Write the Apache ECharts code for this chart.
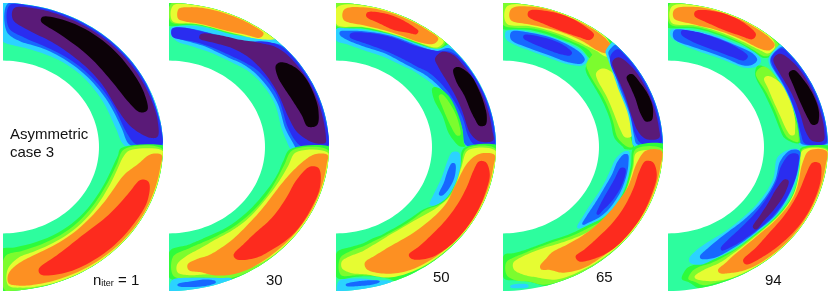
<!DOCTYPE html>
<html><head><meta charset="utf-8">
<style>html,body{margin:0;padding:0;background:#fff}#c{width:831px;height:294px}</style>
<script src="https://cdn.jsdelivr.net/npm/echarts@6/dist/echarts.min.js"></script>
</head><body><div id="c"></div>
<script>
// Contour levels of the field, from lowest to highest
const levelColors = {
  black:'#0c0208', purple:'#5a1a78', deep:'#2a2df0', blue:'#1768ff', cyan:'#2bd3ff',
  base:'#2dfd9e', green:'#2dfb3c', lime:'#7cfc2e', yellow:'#e6fc32', orange:'#fd9022', red:'#fd2b1e'
};
// how far the estimated edges of each level were under-read
const levelGrow = {black:.012, purple:.008, deep:.004, blue:.002, cyan:.002, green:0, lime:0, yellow:.004, orange:.008, red:.011};
const innerRadius = 0.6;
const panelLabels = ['1','30','50','65','94'];
// each contour: [level, [[angle deg, r inner, r outer], ...]]
const panel1 = [
 ['cyan',[[0.5,.77,1.05],[10,.72,1.05],[30,.70,1.05],[50,.70,1.05],[74,.70,1.05],[88,.72,1.05],[90,.74,1.05]]],
 ['blue',[[1,.80,1.05],[10,.755,.998],[30,.725,.998],[50,.72,.998],[70,.73,.998],[82,.745,.998],[88,.80,.995]]],
 ['deep',[[1.5,.84,.99],[8,.78,.99],[30,.745,.99],[50,.74,.99],[70,.75,.99],[80,.775,.99],[87,.83,.985]]],
 ['purple',[[5,.92,.96],[10,.82,.975],[20,.77,.975],[37,.765,.975],[55,.775,.975],[68,.80,.975],[78,.83,.975],[85,.89,.96]]],
 ['black',[[17,.90,.925],[22,.855,.945],[35,.83,.95],[50,.84,.955],[65,.87,.95],[73.5,.915,.925]]],
 ['green',[[-0.5,.74,1.05],[-5,.72,1.05],[-11,.70,1.05],[-26,.68,1.05],[-54,.685,1.05],[-83,.70,1.05],[-92,.72,1.05]]],
 ['lime',[[-1,.76,1.0],[-10,.72,1.0],[-26,.695,1.0],[-54,.705,1.0],[-80,.73,1.0],[-89,.76,1.0]]],
 ['yellow',[[-2,.80,.995],[-5,.76,.995],[-23,.72,.995],[-53,.73,.995],[-75,.755,.99],[-83,.78,.98],[-87.5,.85,.96]]],
 ['orange',[[-4,.93,.985],[-8,.86,.985],[-15,.785,.985],[-33,.745,.985],[-55,.75,.98],[-76,.785,.97],[-84,.83,.96],[-87,.89,.94]]],
 ['red',[[-16,.90,.93],[-22,.86,.965],[-34,.825,.965],[-51,.80,.96],[-66,.835,.945],[-74,.885,.905]]]
];
const panel2 = [
 ['green',[[92,.85,1.05],[78,.865,1.05],[64,.875,1.05],[55,.93,1.05],[47,.99,1.05]]],
 ['lime',[[89,.865,1.0],[78,.87,1.0],[64,.88,1.0],[54,.94,1.0],[48,.985,1.0]]],
 ['yellow',[[88,.875,.98],[80,.875,.995],[65,.885,.995],[52,.94,.995],[48.5,.97,.99]]],
 ['orange',[[85.5,.90,.955],[83,.885,.97],[78,.885,.98],[67,.89,.985],[58,.925,.985],[54,.955,.978]]],
 ['cyan',[[-2.5,.78,1.05],[-1,.76,1.05],[10,.718,1.05],[25,.728,1.05],[45,.727,1.05],[50,.72,.97],[55,.71,.92],[64,.706,.87],[78,.715,.855],[86,.737,.84],[89,.78,.825]]],
 ['blue',[[-1.5,.80,1.0],[0,.79,1.0],[10,.74,1.0],[25,.745,1.0],[45,.745,.995],[51,.74,.93],[60,.725,.85],[72,.735,.83],[86,.76,.83],[88.5,.80,.82]]],
 ['deep',[[0.8,.83,.99],[10,.76,.99],[30,.77,.99],[45,.77,.985],[50,.76,.95],[60,.745,.84],[75,.75,.825],[88,.77,.82]]],
 ['purple',[[2.5,.92,.97],[4,.86,.975],[8,.81,.975],[17,.78,.975],[30,.785,.975],[45,.80,.96],[52,.805,.91],[60,.80,.855],[68,.785,.83],[75,.785,.80]]],
 ['black',[[10.5,.89,.925],[15,.87,.955],[22,.85,.965],[31,.84,.965],[36,.85,.945],[39,.885,.90]]],
 ['green',[[-1,.76,1.05],[-8,.72,1.05],[-15,.705,1.05],[-30,.675,1.05],[-44,.665,1.05],[-60,.665,1.05],[-67,.665,1.0],[-74,.675,.95],[-80,.69,.92],[-89.5,.72,.915]]],
 ['lime',[[-1.5,.775,1.0],[-10,.73,1.0],[-30,.695,1.0],[-60,.685,1.0],[-68,.69,.985],[-75,.70,.94],[-80,.715,.92],[-88,.76,.90]]],
 ['yellow',[[-3,.80,.995],[-10,.76,.995],[-30,.71,.995],[-50,.705,.99],[-57,.705,.98],[-66,.71,.95],[-76,.74,.908],[-82,.77,.895],[-86,.82,.87]]],
 ['orange',[[-4,.92,.985],[-7,.85,.985],[-15,.78,.985],[-26,.74,.985],[-45,.735,.98],[-63,.775,.97],[-72,.80,.93],[-77,.805,.885],[-81,.83,.855]]],
 ['red',[[-10,.90,.935],[-16,.84,.972],[-25,.825,.975],[-38,.82,.973],[-48,.815,.95],[-55,.83,.93],[-60.5,.86,.875]]],
 ['cyan',[[-88.5,.925,1.05],[-78,.93,1.05],[-70,.97,1.05],[-67,.995,1.05]]],
 ['blue',[[-86.5,.955,.965],[-82,.945,.98],[-76,.95,.99],[-73,.975,.985]]]
];
const panel3 = [
 ['green',[[92,.83,1.05],[78,.84,1.05],[65,.85,1.05],[55,.875,1.05],[48,.92,1.05],[44,1.0,1.05]]],
 ['lime',[[89.8,.84,1.0],[78,.848,1.0],[65,.858,1.0],[55,.885,1.0],[47,.93,1.0]]],
 ['yellow',[[89,.85,.97],[78,.855,.995],[64,.868,.995],[52,.905,.995],[48,.94,.995]]],
 ['orange',[[86,.89,.95],[78,.87,.98],[64,.88,.985],[55,.90,.985],[50.5,.945,.98]]],
 ['red',[[77,.935,.945],[72,.91,.965],[66,.90,.965],[60,.925,.955],[58.5,.94,.945]]],
 ['cyan',[[1.5,.80,1.05],[10,.78,1.05],[25,.76,1.05],[36,.745,1.05],[44,.725,1.05],[47,.72,.93],[55,.70,.875],[65,.695,.855],[75,.695,.835],[85,.72,.825],[89.5,.74,.82]]],
 ['blue',[[1,.815,1.0],[10,.80,1.0],[25,.785,.995],[36,.765,.995],[44,.745,.985],[47,.735,.91],[55,.72,.865],[65,.72,.845],[75,.72,.825],[84,.745,.81],[88,.78,.80]]],
 ['deep',[[1.5,.87,.985],[5,.835,.99],[15,.82,.99],[30,.80,.99],[42,.78,.975],[47,.76,.91],[55,.745,.855],[65,.74,.835],[75,.745,.815],[83,.77,.79]]],
 ['purple',[[3.5,.90,.975],[7,.85,.975],[19,.835,.975],[35,.84,.97],[41,.855,.965],[44,.88,.93]]],
 ['black',[[10.5,.92,.935],[13,.90,.955],[17,.89,.96],[24,.89,.965],[31,.89,.965],[35,.92,.93]]],
 ['green',[[-0.5,.80,1.05],[-10,.785,1.05],[-25,.775,1.05],[-31,.755,1.05],[-38,.70,1.05],[-46,.68,1.05],[-60,.67,1.05],[-66,.675,1.05],[-70,.675,.975],[-76,.69,.925],[-82,.70,.91],[-89.5,.73,.91]]],
 ['green',[[34,.725,.745],[28,.695,.785],[18,.70,.795],[8,.71,.80],[2,.75,.80],[0.3,.775,.81]]],
 ['lime',[[29,.735,.755],[22,.72,.775],[12,.73,.785],[6,.76,.78]]],
 ['lime',[[-0.8,.815,1.0],[-10,.79,1.0],[-25,.785,1.0],[-31,.765,1.0],[-38,.71,1.0],[-46,.695,1.0],[-60,.685,.99],[-70,.695,.96],[-76,.71,.92],[-82,.725,.90],[-88,.77,.89]]],
 ['yellow',[[-2,.83,.995],[-10,.80,.995],[-25,.795,.995],[-33,.765,.995],[-45,.715,.99],[-60,.70,.985],[-70,.72,.96],[-78,.75,.90],[-84,.77,.875],[-87,.80,.84]]],
 ['orange',[[-4,.90,.985],[-8,.835,.985],[-19,.80,.985],[-30,.80,.985],[-45,.78,.98],[-63,.775,.96],[-72,.80,.915],[-76.5,.83,.86]]],
 ['red',[[-7.5,.91,.93],[-11,.885,.968],[-18,.875,.975],[-34,.865,.98],[-46,.865,.975],[-53,.875,.955],[-57.5,.885,.90]]],
 ['cyan',[[-3,.73,.765],[-8,.705,.785],[-19,.695,.785],[-28,.695,.77],[-34,.71,.725]]],
 ['blue',[[-9,.735,.75],[-13,.72,.765],[-20,.72,.765],[-27,.725,.74]]],
 ['cyan',[[-88.5,.93,1.05],[-80,.93,1.05],[-75,.96,1.05],[-70,.995,1.05]]],
 ['blue',[[-86,.955,.965],[-81,.945,.975],[-76,.955,.98],[-74,.97,.975]]]
];
const panel4 = [
 ['green',[[92,.83,1.05],[78,.83,1.05],[65,.83,1.05],[55,.84,1.05],[48,.82,1.05],[44,.85,1.05],[42,.93,1.05]]],
 ['green',[[47,.76,.96],[45,.735,.93],[40,.715,.87],[30,.70,.825],[15,.695,.81],[5,.70,.81],[0,.75,.82],[-1,.76,.82]]],
 ['lime',[[89.8,.845,1.0],[75,.845,1.0],[60,.85,1.0],[52,.86,.995],[48,.85,.975],[45,.88,.96]]],
 ['lime',[[48,.78,.96],[44,.745,.92],[38,.725,.87],[28,.715,.815],[15,.71,.80],[5,.72,.80],[0,.78,.81]]],
 ['yellow',[[88,.86,.975],[78,.86,.995],[65,.865,.995],[55,.875,.995],[49,.89,.99],[44.5,.905,.94]]],
 ['yellow',[[41,.78,.82],[38,.755,.85],[28,.74,.84],[18,.735,.825],[10,.745,.82],[5.5,.77,.80]]],
 ['orange',[[86,.89,.955],[78,.875,.985],[65,.885,.985],[55,.895,.985],[49,.90,.98],[46,.925,.96]]],
 ['red',[[79,.93,.95],[72,.90,.975],[65,.895,.98],[58,.91,.97],[55,.93,.955]]],
 ['cyan',[[88.5,.755,.80],[85,.72,.815],[75,.69,.815],[60,.69,.825],[53,.715,.825],[49,.755,.80]]],
 ['blue',[[86,.75,.80],[78,.71,.81],[60,.705,.815],[53,.73,.81],[50,.76,.79]]],
 ['deep',[[80,.77,.785],[75,.745,.795],[65,.735,.80],[60,.745,.795],[57,.765,.78]]],
 ['cyan',[[46,.93,1.05],[44,.905,1.05],[30,.83,1.05],[15,.815,1.05],[5,.81,1.05],[0.8,.82,1.05]]],
 ['blue',[[45,.94,1.0],[44,.92,1.0],[30,.84,1.0],[15,.825,1.0],[5,.825,1.0],[1.5,.84,1.0]]],
 ['deep',[[43,.93,.985],[40,.885,.99],[30,.85,.99],[15,.83,.99],[6,.835,.99],[2,.87,.985]]],
 ['purple',[[40,.91,.945],[35,.875,.97],[25,.85,.975],[16,.84,.975],[8,.855,.975],[4.5,.90,.97]]],
 ['black',[[31,.925,.94],[27,.91,.955],[22,.905,.965],[17,.90,.965],[14,.905,.955],[12.5,.92,.935]]],
 ['green',[[0,.82,1.05],[-10,.81,1.05],[-25,.815,1.05],[-37,.80,1.05],[-45,.76,1.05],[-51,.745,1.05],[-65,.715,1.05],[-70,.715,1.05],[-75,.72,1.0],[-80,.73,.95],[-85,.74,.93],[-89.5,.75,.915]]],
 ['lime',[[-1,.83,1.0],[-10,.82,1.0],[-25,.825,1.0],[-37,.815,1.0],[-45,.78,1.0],[-52,.76,1.0],[-65,.73,1.0],[-75,.735,.99],[-80,.75,.95],[-85,.77,.93],[-88.5,.80,.89]]],
 ['yellow',[[-3,.84,.995],[-10,.83,.995],[-25,.83,.995],[-37,.825,.995],[-47,.80,.99],[-60,.765,.985],[-70,.75,.975],[-77,.76,.925],[-82,.78,.89],[-85,.81,.85]]],
 ['orange',[[-2.5,.90,.985],[-8,.85,.985],[-20,.835,.985],[-31,.815,.985],[-50,.80,.975],[-60,.795,.97],[-67,.80,.94],[-71,.83,.895],[-73.5,.865,.875]]],
 ['red',[[-7.5,.905,.93],[-11,.88,.968],[-20,.875,.975],[-35,.875,.98],[-47,.875,.975],[-54,.885,.95],[-58,.895,.915]]],
 ['cyan',[[-2.5,.76,.785],[-6,.715,.795],[-12,.695,.805],[-25,.68,.81],[-37,.68,.795],[-45,.70,.76],[-50,.725,.735]]],
 ['blue',[[-4,.76,.78],[-8,.725,.79],[-15,.71,.795],[-25,.695,.795],[-37,.70,.78],[-44,.715,.75],[-47,.73,.735]]],
 ['deep',[[-11.5,.755,.775],[-18,.735,.785],[-28,.725,.775],[-35,.735,.76],[-38,.75,.755]]],
 ['cyan',[[-87,.965,.975],[-84,.957,.985],[-81,.97,.985]]]
];
const panel5 = [
 ['green',[[92,.84,1.05],[78,.84,1.05],[65,.84,1.05],[55,.85,1.05],[50,.85,1.05],[46,.86,1.05],[44.5,.89,1.05],[43.5,.97,1.05]]],
 ['lime',[[89,.85,1.0],[78,.85,1.0],[65,.85,1.0],[52,.86,1.0],[46.5,.87,.995],[45,.90,.98]]],
 ['yellow',[[88,.865,.975],[78,.865,.995],[65,.865,.995],[55,.875,.995],[49,.89,.99],[46.5,.905,.96]]],
 ['orange',[[86.7,.90,.95],[80,.875,.98],[70,.875,.985],[58,.885,.985],[50,.90,.98],[47.5,.93,.965]]],
 ['red',[[78.5,.935,.95],[73,.905,.975],[66,.895,.98],[60,.905,.97],[56,.925,.945]]],
 ['cyan',[[88.5,.77,.81],[85,.73,.82],[75,.695,.825],[60,.70,.83],[50,.725,.85],[46.5,.76,.84],[45.5,.79,.82]]],
 ['blue',[[87,.755,.81],[78,.715,.815],[60,.715,.82],[50,.74,.835],[47.5,.78,.82]]],
 ['deep',[[83.5,.79,.81],[78,.75,.815],[68,.735,.81],[58,.745,.81],[52,.77,.80]]],
 ['cyan',[[44.5,.89,1.05],[42,.855,1.05],[30,.83,1.05],[15,.82,1.05],[5,.815,1.05],[1.2,.825,1.05]]],
 ['blue',[[44,.90,1.0],[42,.865,1.0],[30,.84,1.0],[15,.83,1.0],[5,.825,1.0],[1.8,.835,1.0]]],
 ['deep',[[43.5,.90,.985],[40,.865,.99],[28,.845,.99],[15,.835,.99],[6,.84,.99],[2,.86,.985]]],
 ['purple',[[42,.905,.945],[37,.875,.97],[25,.865,.975],[15,.865,.975],[7,.875,.975],[3.5,.91,.965]]],
 ['black',[[33,.925,.94],[29,.905,.955],[22,.895,.965],[16,.90,.965],[12.5,.91,.955],[11,.925,.935]]],
 ['green',[[45,.78,.80],[42,.735,.825],[30,.705,.83],[20,.70,.825],[10,.71,.825],[5,.73,.825],[2,.79,.825]]],
 ['lime',[[43,.75,.82],[30,.72,.825],[20,.715,.82],[10,.725,.82],[5,.75,.82],[2.5,.80,.815]]],
 ['yellow',[[38,.77,.79],[33,.75,.825],[25,.735,.825],[15,.74,.815],[9,.755,.80],[6.5,.775,.79]]],
 ['green',[[-0.5,.83,1.05],[-5,.83,1.05],[-24,.845,1.05],[-48,.815,1.05],[-60,.825,1.05],[-74,.83,1.05],[-79,.835,1.0],[-82,.85,.95],[-84.5,.905,.925]]],
 ['lime',[[-1,.84,1.0],[-5,.835,1.0],[-24,.85,1.0],[-48,.82,1.0],[-60,.83,1.0],[-72,.85,.99],[-77,.855,.985],[-80,.875,.95],[-82,.915,.93]]],
 ['yellow',[[-2,.845,.995],[-10,.84,.995],[-24,.855,.995],[-48,.83,.995],[-60,.845,.99],[-68,.87,.985],[-75,.885,.96],[-79,.915,.925]]],
 ['orange',[[-2.5,.89,.985],[-8,.855,.985],[-24,.865,.985],[-48,.84,.985],[-60,.86,.975],[-66,.89,.95],[-69,.915,.925]]],
 ['red',[[-8,.92,.945],[-12,.895,.968],[-22,.885,.975],[-32,.88,.975],[-43,.88,.965],[-52,.90,.955],[-58,.925,.94]]],
 ['cyan',[[-1.5,.76,.815],[-6,.69,.825],[-19,.695,.83],[-35,.685,.825],[-46,.68,.81],[-60,.69,.815],[-70,.71,.83],[-76,.74,.84],[-80,.785,.815]]],
 ['blue',[[-2,.765,.82],[-8,.71,.825],[-19,.71,.825],[-35,.70,.82],[-46,.695,.805],[-60,.705,.81],[-70,.745,.82],[-75,.785,.80]]],
 ['deep',[[-4,.77,.81],[-10,.725,.82],[-20,.72,.82],[-35,.715,.81],[-50,.725,.795],[-60,.75,.795],[-64.5,.78,.79]]],
 ['purple',[[-18,.77,.78],[-23,.745,.79],[-32,.745,.785],[-40,.755,.78],[-45.5,.775,.785]]]
];
const panels = [panel1, panel2, panel3, panel4, panel5];
const panelLefts = [3, 169, 336, 503, 668];
const panelTop = 3, panelW = 160, panelH = 288;
const labelLeft = [93,266,433,596,765];
const labelMid = [282,281,278,278,281];

function xy(t, r){ const a = t*Math.PI/180; return [r*Math.cos(a), r*Math.sin(a)]; }
// closed centripetal Catmull-Rom through a loop of [angle, r] knots
function smoothLoop(P){
  const out=[], n=P.length, m=p=>[p[0]*Math.PI/180*0.8, p[1]];
  const d=(a,b)=>{const A=m(a),B=m(b);return Math.max(1e-4,Math.pow(Math.hypot(A[0]-B[0],A[1]-B[1]),0.5));};
  for(let i=0;i<n;i++){
    const p0=P[(i-1+n)%n],p1=P[i],p2=P[(i+1)%n],p3=P[(i+2)%n];
    const t0=0,t1=t0+d(p0,p1),t2=t1+d(p1,p2),t3=t2+d(p2,p3);
    for(let k=0;k<10;k++){
      const t=t1+(t2-t1)*k/10, L=(a,b,ta,tb)=>[0,1].map(j=>a[j]*(tb-t)/(tb-ta)+b[j]*(t-ta)/(tb-ta));
      const A1=L(p0,p1,t0,t1),A2=L(p1,p2,t1,t2),A3=L(p2,p3,t2,t3);
      const B1=L(A1,A2,t0,t2),B2=L(A2,A3,t1,t3);
      out.push(L(B1,B2,t1,t2));
    }
  }
  return out;
}
function seriesFor(contours, gi){
  return {
    type:'custom', xAxisIndex:gi, yAxisIndex:gi, silent:true, clip:false, animation:false,
    data:[-1].concat(contours.map((c,i)=>i)),
    renderItem:function(params, api){
      const toPx=p=>api.coord(xy(p[0],p[1]));
      const ring=[];
      for(let t=90;t>=-90;t-=2) ring.push([t,1]);
      for(let t=-90;t<=90;t+=2) ring.push([t,innerRadius]);
      const ringPx=ring.map(toPx);
      const idx=params.dataIndex-1;
      if(idx<0) return {type:'polygon',shape:{points:ringPx},style:{fill:levelColors.base}};
      const c=contours[idx], g=levelGrow[c[0]]||0, n=c[1].length;
      const rails=c[1].map((a,i)=>{
        const sign=Math.sign(a[0]-c[1][n-1-i][0]||1);
        const ext=(i===0||i===n-1)?sign*g*100:0;
        return [a[0]+ext,a[1]-g,a[2]+g];
      });
      const loop=rails.map(a=>[a[0],a[2]]).concat(rails.slice().reverse().map(a=>[a[0],a[1]]));
      return {type:'polygon',shape:{points:smoothLoop(loop).map(toPx)},style:{fill:levelColors[c[0]]},
        clipPath:{type:'polygon',shape:{points:ringPx}}};
    }
  };
}
const grids=[],xAxes=[],yAxes=[],series=[];
panels.forEach((p,i)=>{
  grids.push({left:panelLefts[i],top:panelTop,width:panelW,height:panelH});
  xAxes.push({type:'value',gridIndex:i,min:0,max:1,show:false});
  yAxes.push({type:'value',gridIndex:i,min:-1,max:1,show:false});
  series.push(seriesFor(p,i));
});
const txt={fontFamily:'Liberation Sans, Arial, sans-serif',fontSize:15,fill:'#111'};
const graphics=[{type:'text',left:10,top:126,style:Object.assign({},txt,{text:'Asymmetric\ncase 3',lineHeight:18})}];
panelLabels.forEach((l,i)=>{
  if(i===0){
    graphics.push({type:'text',left:labelLeft[0],top:labelMid[0]-9,style:{
      text:'{a|n}{s|iter}{a| = 1}',rich:{
        a:{fontFamily:txt.fontFamily,fontSize:15,fill:'#111'},
        s:{fontFamily:txt.fontFamily,fontSize:9,fill:'#111',verticalAlign:'bottom',padding:[5,0,0,0]}}}});
  } else {
    graphics.push({type:'text',left:labelLeft[i],top:labelMid[i]-8,style:Object.assign({},txt,{text:l})});
  }
});
const chart=echarts.init(document.getElementById('c'),null,{renderer:'canvas'});
chart.setOption({animation:false,backgroundColor:'#fff',grid:grids,xAxis:xAxes,yAxis:yAxes,series:series,graphic:graphics});
</script></body></html>
